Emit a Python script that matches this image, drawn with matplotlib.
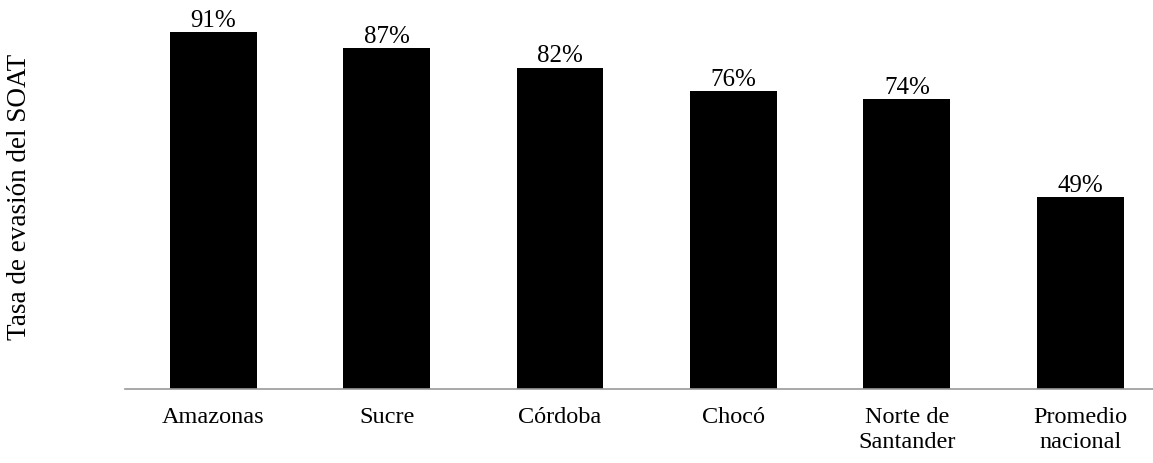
import matplotlib.pyplot as plt
import numpy as np

# datos
categorias = ["Amazonas", "Sucre", "Córdoba", "Chocó", "Norte de\nSantander", "Promedio\nnacional"]
tasas = [91, 87, 82, 76, 74, 49]
etiquetas = ["91%", "87%", "82%", "76%", "74%", "49%"]

plt.rcParams["font.family"] = ["Liberation Serif", "DejaVu Serif"]

fig = plt.figure(figsize=(11.53, 4.64), dpi=100)
ax = fig.add_axes([125 / 1153, 74 / 464, 1028 / 1153, 390 / 464])

x = np.arange(len(categorias))
barras = ax.bar(x, tasas, width=0.5, color="black", zorder=2)

for b, txt in zip(barras, etiquetas):
    ax.text(b.get_x() + b.get_width() / 2, b.get_height() + 0.3, txt,
            ha="center", va="bottom", fontsize=18)

ax.set_xlim(-0.51, 5.42)
ax.set_ylim(0, 99.5)

ax.set_xticks(x)
ax.set_xticklabels(categorias, fontsize=17.5, linespacing=1.25)
ax.tick_params(axis="x", length=0, pad=12)
ax.set_yticks([])

for lado in ["top", "right", "left"]:
    ax.spines[lado].set_visible(False)
ax.spines["bottom"].set_color("#999999")
ax.spines["bottom"].set_linewidth(1.2)

ax.set_ylabel("Tasa de evasión del SOAT", fontsize=19.5)
ax.yaxis.set_label_coords(-0.09, 0.495)

fig.savefig("out.png", dpi=100)
